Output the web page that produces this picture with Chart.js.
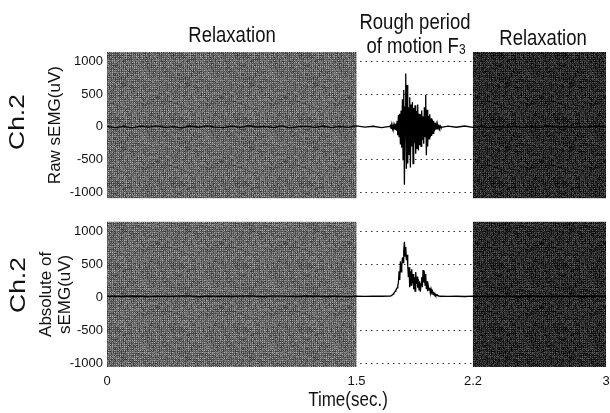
<!DOCTYPE html>
<html>
<head>
<meta charset="utf-8">
<script src="https://cdn.jsdelivr.net/npm/chart.js@4.4.1/dist/chart.umd.min.js"></script>
<style>
  body { margin: 0; background: #fff; font-family: 'Liberation Sans', Arial, sans-serif; }
  #wrap { position: relative; width: 610px; height: 413px; overflow: hidden; }
  canvas { position: absolute; left: 0; }
  .lbl { position: absolute; color: #111; white-space: nowrap; line-height: 1;
         transform: translate(-50%, -50%) scaleY(1.15); }
  .ch { position: absolute; color: #111; white-space: nowrap; line-height: 1; font-size: 22px;
        transform: translate(-50%, -50%) rotate(-90deg) scaleX(1.2); }
  sub { font-size: 12px; vertical-align: -1px; }
</style>
</head>
<body>
<div id="wrap">
  <canvas id="rawChart" width="610" height="210" style="top:0"></canvas>
  <canvas id="absChart" width="610" height="203" style="top:210px"></canvas>

  <div class="lbl" style="left:232px; top:35px; font-size:18.5px">Relaxation</div>
  <div class="lbl" style="left:415px; top:22px; font-size:18.5px">Rough period</div>
  <div class="lbl" style="left:416px; top:46px; font-size:18.5px">of motion F<sub>3</sub></div>
  <div class="lbl" style="left:543px; top:38px; font-size:18.5px">Relaxation</div>
  <div class="ch" style="left:17px; top:122px">Ch.2</div>
  <div class="ch" style="left:18px; top:285px">Ch.2</div>
  <div class="lbl" style="left:348px; top:400px; font-size:17px">Time(sec.)</div>
</div>

<script>
// time axis (seconds)
const time = [
  0, 0.05, 0.1, 0.15, 0.2, 0.25, 0.3, 0.35, 0.4, 0.45, 0.5, 0.55, 0.6, 0.65, 0.7, 0.75, 0.8, 0.85,
  0.9, 0.95, 1, 1.05, 1.1, 1.15, 1.2, 1.25, 1.3, 1.35, 1.4, 1.45, 1.5, 1.55, 1.6, 1.65, 1.7,
  1.704, 1.708, 1.712, 1.716, 1.72, 1.724, 1.728, 1.732, 1.736, 1.74,
  1.744, 1.748, 1.752, 1.756, 1.76, 1.764, 1.768, 1.772, 1.776, 1.78,
  1.784, 1.788, 1.792, 1.796, 1.8, 1.804, 1.808, 1.812, 1.816, 1.82,
  1.824, 1.828, 1.832, 1.836, 1.84, 1.844, 1.848, 1.852, 1.856, 1.86,
  1.864, 1.868, 1.872, 1.876, 1.88, 1.884, 1.888, 1.892, 1.896, 1.9,
  1.904, 1.908, 1.912, 1.916, 1.92, 1.924, 1.928, 1.932, 1.936, 1.94,
  1.944, 1.948, 1.952, 1.956, 1.96, 1.964, 1.968, 1.972, 1.976, 1.98,
  1.984, 1.988, 1.992, 1.996, 2, 2.004, 2.008,
  2.05, 2.1, 2.15, 2.2, 2.25, 2.3, 2.35, 2.4, 2.45, 2.5, 2.55, 2.6, 2.65, 2.7, 2.75, 2.8, 2.85,
  2.9, 2.95, 3
];

// Ch.2 raw sEMG (uV)
const rawEmg = [
  8, -12, 5, -15, 10, -4, 14, -9, 3, -16, 12, -7, 15, -5, -13, 9, -8, 16,
  -3, 7, -11, 13, -15, 4, 10, -8, 12, -13, 5, -10, 14, -4, 8, -12, 7,
  20, -25, 15, -30, 35, -20, 25, -40, 45, -60,
  90, -130, 180, -150, 200, -270, 250, -320, 420, -500,
  560, -885, 300, 814, -640, 640, -560, 300, -420, 450,
  -620, 340, -300, 380, -560, 290, -250, 330, -410, 240,
  -330, 340, -360, 200, -280, 190, -300, 250, -200, 160,
  -260, 300, -150, 490, -435, 260, -300, 165, -185, 190,
  -160, 130, -140, 110, -100, 90, -70, 60, -45, 35,
  -30, 25, -20, 15, -18, 12, -10,
  9, -7, 12, -8, 5, -11, 7, -5, 10, -9, 4, -8, 12, -6, 7, -10, 6,
  -4, 9, -7
];

// Ch.2 absolute sEMG (uV)
const absEmg = [
  10, 14, 8, 16, 12, 6, 15, 11, 9, 18, 13, 7, 15, 10, 12, 8, 14, 17,
  9, 11, 13, 15, 10, 8, 16, 12, 9, 14, 11, 7, 13, 10, 15, 12, 14,
  15, 20, 25, 35, 45, 55, 70, 85, 100, 120,
  140, 170, 220, 390, 260, 540, 380, 460, 600, 520,
  700, 836, 620, 760, 560, 640, 480, 300, 450, 150,
  390, 180, 420, 210, 350, 120, 300, 90, 380, 200,
  310, 140, 270, 110, 240, 80, 200, 300, 150, 410,
  220, 390, 180, 350, 120, 240, 90, 165, 110, 140,
  60, 120, 70, 90, 40, 80, 30, 50, 25, 35,
  20, 25, 15, 18, 12, 10, 14,
  10, 12, 8, 14, 11, 9, 13, 10, 7, 12, 15, 9, 11, 8, 13, 10, 12,
  9, 14, 11
];

const xTicks = [0, 1.5, 2.2, 3];
const yTicks = [-1000, -500, 0, 500, 1000];
// relaxation / motion / relaxation boundaries
const periods = [0, 1.5, 2.2, 3];

const FONT = "'Liberation Sans', Arial, sans-serif";

// halftone-like grey texture for the relaxation periods
function texture(base, light) {
  const size = 64;
  const c = document.createElement('canvas');
  c.width = c.height = size;
  const g = c.getContext('2d');
  const img = g.createImageData(size, size);
  for (let y = 0; y < size; y++) {
    for (let x = 0; x < size; x++) {
      let h = Math.imul(x + 1, 374761393) ^ Math.imul(y + 7, 668265263);
      h = Math.imul(h ^ (h >>> 13), 1274126177);
      const r = ((h ^ (h >>> 16)) >>> 0) / 4294967295;
      let v = (x % 2 === 0 && y % 2 === 0) ? light : base;
      v += (r - 0.5) * 70;
      v = Math.max(0, Math.min(255, v));
      const i = (y * size + x) * 4;
      img.data[i] = img.data[i + 1] = img.data[i + 2] = v;
      img.data[i + 3] = 255;
    }
  }
  g.putImageData(img, 0, 0);
  return c;
}

const shade = {
  id: 'shade',
  beforeDatasetsDraw(chart) {
    const { ctx, chartArea: a, scales: { x } } = chart;
    const mid = ctx.createPattern(texture(88, 150), 'repeat');
    const dark = ctx.createPattern(texture(30, 70), 'repeat');
    const x0 = x.getPixelForValue(periods[0]);
    const x1 = x.getPixelForValue(periods[1]);
    const x2 = x.getPixelForValue(periods[2]);
    const x3 = x.getPixelForValue(periods[3]);
    ctx.save();
    ctx.fillStyle = mid;
    ctx.fillRect(x0, a.top, x1 - x0, a.bottom - a.top);
    ctx.fillStyle = dark;
    ctx.fillRect(x2, a.top, x3 - x2, a.bottom - a.top);
    ctx.restore();
  }
};

function makePanel(id, values, yMin, yMax, title, titlePad, showX, pad) {
  const ctx = document.getElementById(id).getContext('2d');
  return new Chart(ctx, {
    type: 'line',
    data: {
      datasets: [{
        data: time.map((t, i) => ({ x: t, y: values[i] })),
        borderColor: '#000',
        borderWidth: 1.3,
        pointRadius: 0,
        tension: 0
      }]
    },
    options: {
      responsive: false,
      animation: false,
      layout: { padding: pad },
      plugins: { legend: { display: false }, tooltip: { enabled: false } },
      scales: {
        x: {
          type: 'linear',
          min: 0,
          max: 3,
          display: showX,
          afterBuildTicks: s => { s.ticks = xTicks.map(v => ({ value: v })); },
          afterFit: s => {
            s.height = showX ? 46 : 0;
            s.paddingLeft = 0;
            s.paddingRight = 0;
          },
          grid: { display: false, drawTicks: false },
          border: { display: false },
          ticks: {
            padding: 7,
            color: '#111',
            font: { family: FONT, size: 13 },
            maxRotation: 0,
            callback: v => String(v)
          }
        },
        y: {
          min: yMin,
          max: yMax,
          afterBuildTicks: s => { s.ticks = yTicks.map(v => ({ value: v })); },
          afterFit: s => { s.width = 107; },
          grid: {
            drawTicks: false,
            lineWidth: 1,
            color: c => (c.tick && c.tick.value === 0) ? 'rgba(0,0,0,0)' : '#333'
          },
          border: { display: false, dash: [1.5, 4] },
          ticks: {
            padding: 4,
            color: '#111',
            font: { family: FONT, size: 13 },
            callback: v => String(v)
          },
          title: {
            display: true,
            text: title,
            color: '#111',
            font: { family: FONT, size: 17, lineHeight: 1.1 },
            padding: { top: titlePad, bottom: 0 }
          }
        }
      }
    },
    plugins: [shade]
  });
}

makePanel('rawChart', rawEmg, -1090, 1142, 'Raw sEMG(uV)', 46, false,
  { top: 52, bottom: 9, left: 0, right: 4 });
makePanel('absChart', absEmg, -1060, 1140, ['Absolute of', 'sEMG(uV)'], 37, true,
  { top: 9, bottom: 0, left: 0, right: 4 });
</script>
</body>
</html>
